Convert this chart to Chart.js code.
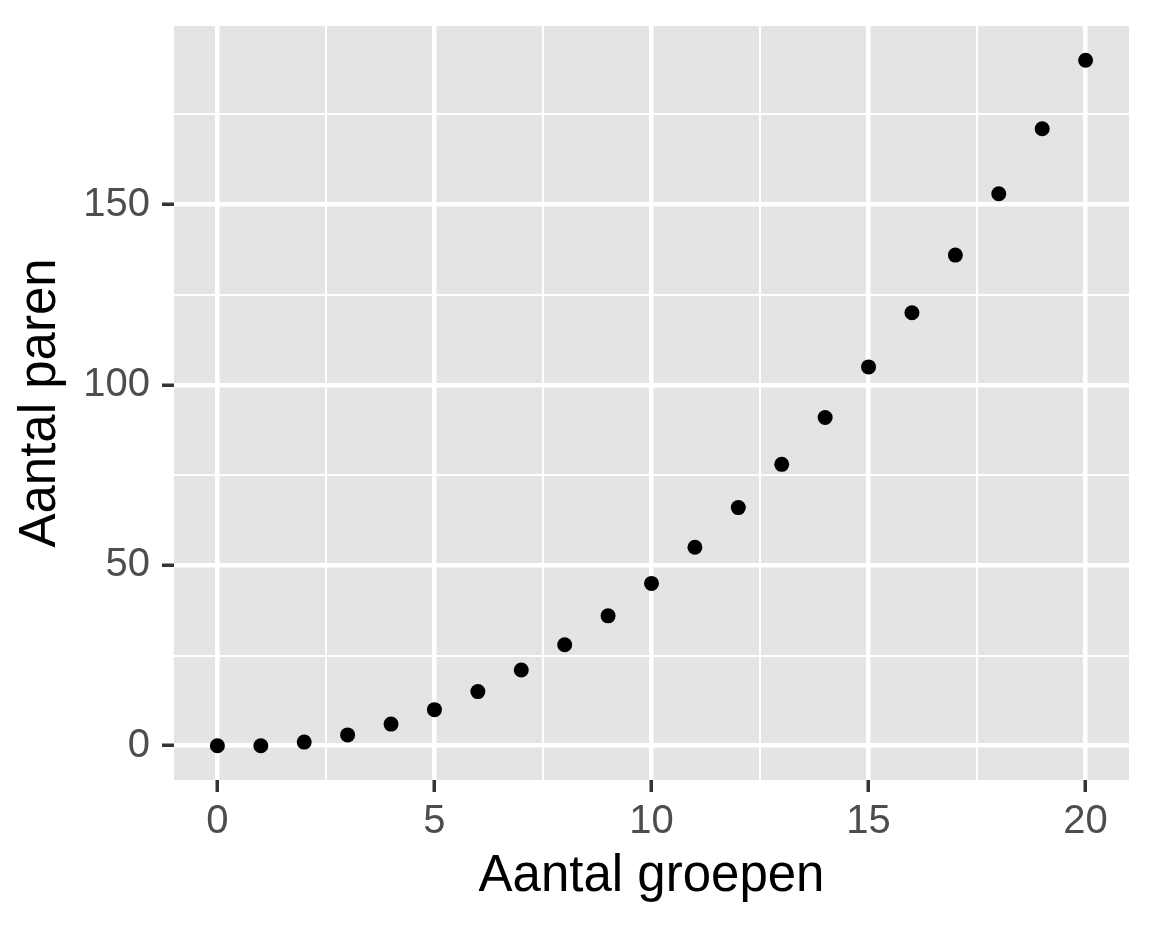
<!DOCTYPE html>
<html>
<head>
<meta charset="utf-8">
<script src="https://cdn.jsdelivr.net/npm/chart.js@4"></script>
<style>
html,body{margin:0;padding:0;background:#fff;}
#wrap{width:1152px;height:928px;}
</style>
</head>
<body>
<div id="wrap"><canvas id="c" width="1152" height="928"></canvas></div>
<script>
const groups = [0,1,2,3,4,5,6,7,8,9,10,11,12,13,14,15,16,17,18,19,20];
const pairs  = [0,0,1,3,6,10,15,21,28,36,45,55,66,78,91,105,120,136,153,171,190];
const xMajor = [0,5,10,15,20];
const xMinor = [2.5,7.5,12.5,17.5];
const yMajor = [0,50,100,150];
const yMinor = [25,75,125,175];
const xTitle = 'Aantal groepen';
const yTitle = 'Aantal paren';

const panelBg = {
  id:'panelBg',
  beforeDraw(chart){
    const {ctx, chartArea:a} = chart;
    ctx.save();
    ctx.fillStyle = '#e4e4e4';
    ctx.fillRect(a.left, a.top, a.right-a.left, a.bottom-a.top);
    ctx.restore();
  }
};

function mkTicks(major, minor){
  return scale => {
    const all = major.concat(minor).sort((a,b)=>a-b);
    scale.ticks = all.map(v => ({value:v, major: major.includes(v)}));
  };
}
const isMajor = (arr) => ctx => ctx.tick && arr.includes(ctx.tick.value);

const font = 'Liberation Sans, Arial, sans-serif';

new Chart(document.getElementById('c'), {
  type:'scatter',
  data:{
    datasets:[{
      data: groups.map((g,i)=>({x:g, y:pairs[i]})),
      backgroundColor:'#000',
      borderWidth:0,
      pointRadius:7.5,
      pointHoverRadius:7.5
    }]
  },
  options:{
    responsive:false,
    animation:false,
    events:[],
    layout:{padding:{top:26,right:23,left:10,bottom:20}},
    plugins:{legend:{display:false}, tooltip:{enabled:false}},
    scales:{
      x:{
        type:'linear', min:-1, max:21,
        afterBuildTicks: mkTicks(xMajor, xMinor),
        afterFit: s => { s.height = 128; s.paddingLeft = 0; s.paddingRight = 0; },
        border:{display:false},
        grid:{
          color:'#ffffff',
          lineWidth: c => isMajor(xMajor)(c) ? 4.5 : 2,
          tickColor: c => isMajor(xMajor)(c) ? '#333333' : 'rgba(0,0,0,0)',
          tickWidth: 3.5,
          tickLength: 12
        },
        ticks:{
          autoSkip:false, maxRotation:0,
          color:'#4d4d4d',
          font:{family:font, size:40},
          padding:6,
          callback: v => xMajor.includes(v) ? String(v) : ''
        },
        title:{display:true, text:xTitle, color:'#000', font:{family:font, size:51}, padding:{top:0,bottom:0}}
      },
      y:{
        type:'linear', min:-9.5, max:199.5,
        afterBuildTicks: mkTicks(yMajor, yMinor),
        afterFit: s => { s.width = 164; s.paddingTop = 0; s.paddingBottom = 0; },
        border:{display:false},
        grid:{
          color:'#ffffff',
          lineWidth: c => isMajor(yMajor)(c) ? 4.5 : 2,
          tickColor: c => isMajor(yMajor)(c) ? '#333333' : 'rgba(0,0,0,0)',
          tickWidth: 3.5,
          tickLength: 12
        },
        ticks:{
          autoSkip:false,
          color:'#4d4d4d',
          font:{family:font, size:40},
          padding:12,
          callback: v => yMajor.includes(v) ? String(v) : ''
        },
        title:{display:true, text:yTitle, color:'#000', font:{family:font, size:51}, padding:{top:0,bottom:0}}
      }
    }
  },
  plugins:[panelBg]
});
</script>
</body>
</html>
